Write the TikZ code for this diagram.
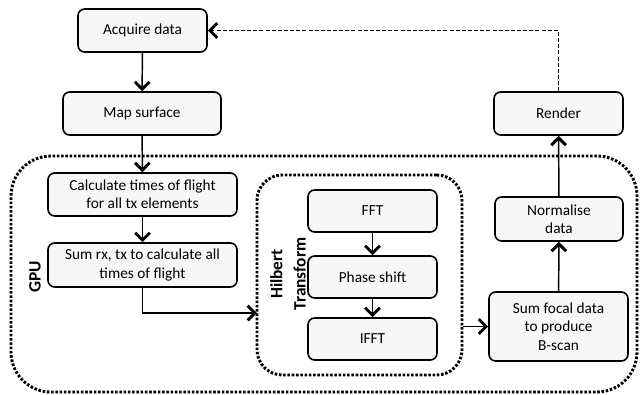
\documentclass[tikz,border=0pt]{standalone}
\usepackage{fontspec}
\setmainfont{Carlito}
\usetikzlibrary{arrows.meta, positioning, calc}

\tikzset{
  box/.style={draw, line width=1.2pt, rounded corners=5pt, fill=gray!6, align=center,
              inner sep=2pt, font=\fontsize{11.5}{13.8}\selectfont},
  group/.style={draw, line width=2.2pt, dash pattern=on 1.9pt off 1.3pt},
  flow/.style={->, line width=1.1pt},
  back/.style={->, line width=1pt, dash pattern=on 3pt off 1.6pt},
}

\begin{document}
\begin{tikzpicture}[x=0.75pt, y=-0.75pt, >={Straight Barb[length=5.5pt, width=11pt, line width=2.2pt]}]
      \useasboundingbox (0,0) rectangle (642,394);

      \node[group, rounded corners=30pt, minimum width=469.5pt, minimum height=177pt] (gpu) at (324,274) {};
      \node[group, rounded corners=19pt, minimum width=153.75pt, minimum height=150pt] (hilb) at (359.5,275) {};

      \node[box, minimum width=96.75pt, minimum height=32.25pt] (acq) at (142.5,30.5) {Acquire data};
      \node[box, minimum width=118.5pt, minimum height=32.25pt] (map) at (142,113.5) {Map surface};
      \node[box, minimum width=141.75pt, minimum height=32.25pt] (calc) at (142.5,194.5) {Calculate times of flight\\for all tx elements};
      \node[box, minimum width=141.75pt, minimum height=33pt] (sumrx) at (142.5,265) {Sum rx, tx to calculate all\\times of flight};

      \node[box, minimum width=96.75pt, minimum height=31.5pt] (fft) at (372.5,211) {FFT};
      \node[box, minimum width=96.75pt, minimum height=31.5pt] (phase) at (372.5,277) {Phase shift};
      \node[box, minimum width=96.75pt, minimum height=31.5pt] (ifft) at (372.5,339) {IFFT};

      \node[box, minimum width=104.25pt, minimum height=51.75pt] (sumfoc) at (558.5,326.5) {Sum focal data\\to produce\\B-scan};
      \node[box, minimum width=96pt, minimum height=33pt] (norm) at (559,219) {Normalise\\data};
      \node[box, minimum width=96.75pt, minimum height=32.25pt] (render) at (558.5,113.5) {Render};

      \node[rotate=90, font=\fontsize{13}{15}\selectfont\bfseries] (gpulabel) at (35,277) {GPU};
      \node[rotate=90, align=center, font=\fontsize{13}{17.5}\selectfont\bfseries] (hilblabel) at (288,274) {Hilbert\\Transform};

      \coordinate (hin) at (257,313);

      \draw[flow] (acq) -- (map);
      \draw[flow] (map) -- (calc);
      \draw[flow] (calc) -- (sumrx);
      \draw[flow] (sumrx.south) |- (hin);
      \draw[flow] (fft) -- (phase);
      \draw[flow] (phase) -- (ifft);
      \draw[flow] (hilb.east |- sumfoc.west) -- (sumfoc.west);
      \draw[flow] (sumfoc) -- (norm);
      \draw[flow] (norm) -- (render);
      \draw[back] (render.north) |- (acq.east);
\end{tikzpicture}
\end{document}
